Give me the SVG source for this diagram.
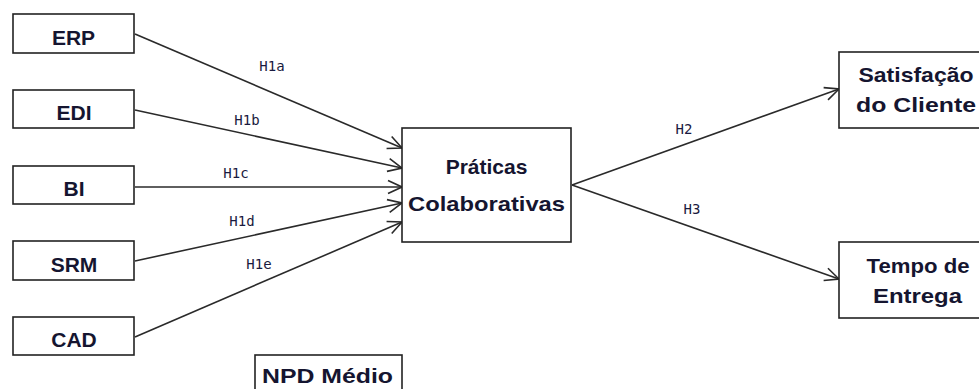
<svg xmlns="http://www.w3.org/2000/svg" width="979" height="389" viewBox="0 0 979 389">
<style>
.box{fill:#fff;stroke:#222;stroke-width:1.6}
.t{font-family:"Liberation Sans",Arial,sans-serif;font-weight:bold;font-size:21px;fill:#151530;text-anchor:middle}
.lbl{font-family:"DejaVu Sans Mono","Liberation Mono",monospace;font-size:14px;fill:#1a1a40;text-anchor:middle}
.c{stroke:#2a2a2a;stroke-width:1.6;fill:none;marker-end:url(#ah)}
</style>
<defs>
<marker id="ah" markerUnits="userSpaceOnUse" markerWidth="16" markerHeight="16" viewBox="0 0 16 16" refX="15" refY="8" orient="auto">
<path d="M1,1.5 L15,8 L1,14.5" fill="none" stroke="#2a2a2a" stroke-width="1.6"/>
</marker>
</defs>
<rect width="979" height="389" fill="#fff"/>
<g id="connectors">
<line class="c" x1="135" y1="34" x2="402" y2="148"/>
<line class="c" x1="135" y1="110" x2="402" y2="168"/>
<line class="c" x1="135" y1="187" x2="402" y2="187"/>
<line class="c" x1="135" y1="261" x2="402" y2="203"/>
<line class="c" x1="135" y1="337" x2="402" y2="222"/>
<line class="c" x1="572" y1="185" x2="839" y2="89"/>
<line class="c" x1="572" y1="185" x2="839" y2="279"/>
<text class="lbl" x="272" y="71">H1a</text>
<text class="lbl" x="247" y="125">H1b</text>
<text class="lbl" x="236" y="178">H1c</text>
<text class="lbl" x="242" y="226">H1d</text>
<text class="lbl" x="259" y="269">H1e</text>
<text class="lbl" x="684" y="134">H2</text>
<text class="lbl" x="692" y="214">H3</text>
</g>
<g id="erp"><rect class="box" x="13" y="14" width="121" height="39"/><text class="t" x="73.5" y="45">ERP</text></g>
<g id="edi"><rect class="box" x="13" y="90" width="121" height="38"/><text class="t" x="74" y="120">EDI</text></g>
<g id="bi"><rect class="box" x="13" y="166" width="121" height="38"/><text class="t" x="74" y="196">BI</text></g>
<g id="srm"><rect class="box" x="13" y="241" width="121" height="39"/><text class="t" x="74" y="272">SRM</text></g>
<g id="cad"><rect class="box" x="13" y="317" width="121" height="38"/><text class="t" x="74" y="347">CAD</text></g>
<g id="praticas"><rect class="box" x="402" y="128" width="169" height="114"/><text class="t" x="486.5" y="174">Práticas</text><text class="t" x="486.5" y="211" textLength="157" lengthAdjust="spacingAndGlyphs">Colaborativas</text></g>
<g id="satisfacao"><rect class="box" x="839" y="52" width="160" height="76"/><text class="t" x="916" y="82" textLength="115" lengthAdjust="spacingAndGlyphs">Satisfação</text><text class="t" x="916" y="112" textLength="120" lengthAdjust="spacingAndGlyphs">do Cliente</text></g>
<g id="tempo"><rect class="box" x="839" y="242" width="160" height="76"/><text class="t" x="918" y="273" textLength="103" lengthAdjust="spacingAndGlyphs">Tempo de</text><text class="t" x="917.5" y="303" textLength="89" lengthAdjust="spacingAndGlyphs">Entrega</text></g>
<g id="npd"><rect class="box" x="255" y="355" width="147" height="50"/><text class="t" x="327.5" y="383" textLength="131" lengthAdjust="spacingAndGlyphs">NPD Médio</text></g>
</svg>
